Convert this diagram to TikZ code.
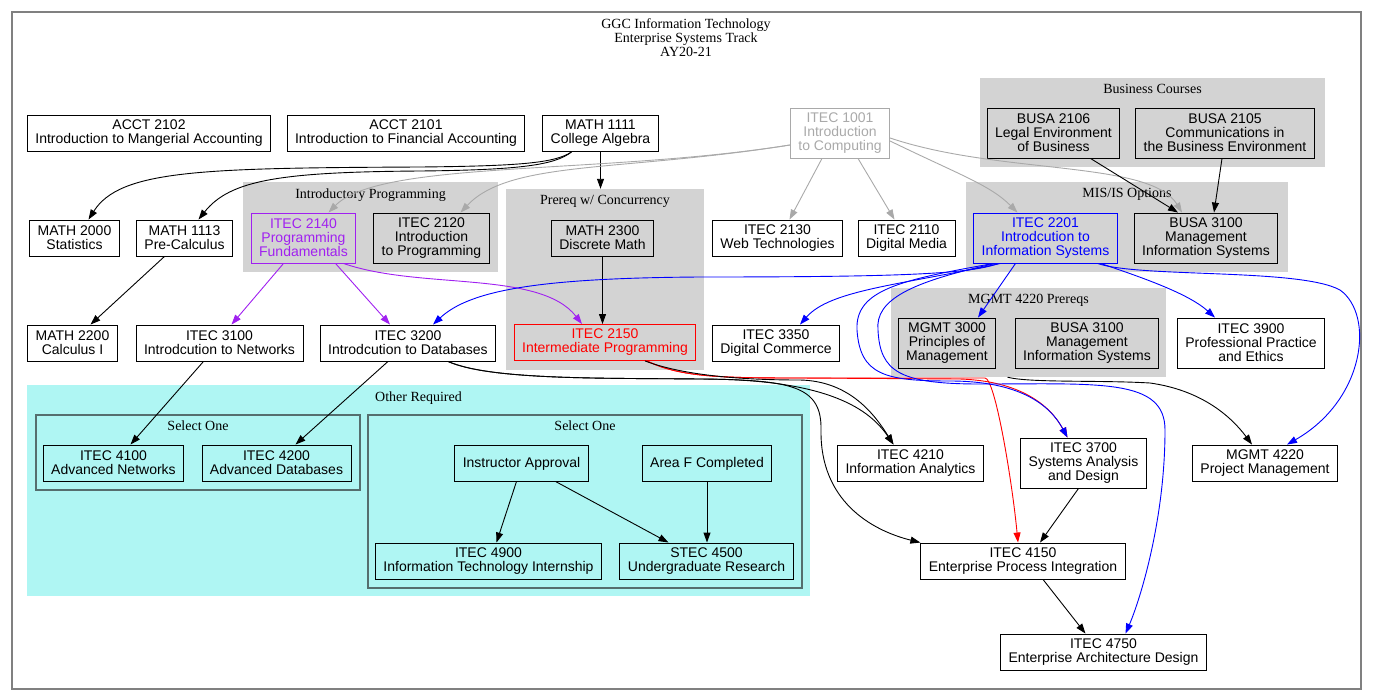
\documentclass[tikz,border=0pt]{standalone}
\usepackage{fontspec}
\setmainfont{Liberation Serif}
\setsansfont{Liberation Sans}
\usetikzlibrary{arrows.meta}

\definecolor{clgray}{RGB}{211,211,211}
\definecolor{cyanfill}{RGB}{175,246,243}
\definecolor{selborder}{RGB}{85,110,110}
\definecolor{itgray}{RGB}{169,169,169}
\definecolor{itpurple}{RGB}{160,32,240}
\definecolor{framegray}{RGB}{128,128,128}

\tikzset{
  course/.style={draw, align=center, font=\sffamily\fontsize{14}{14}\selectfont,
    inner xsep=8pt, inner ysep=0pt, minimum height=36pt, line width=0.9pt,
    execute at begin node={\rule{0pt}{12.5pt}}},
  tall/.style={minimum height=50pt},
  cluster/.style={fill=clgray, inner sep=0pt},
  clabel/.style={font=\rmfamily\fontsize{14}{14}\selectfont, anchor=north, inner sep=0pt},
  pre/.style={->, line width=0.9pt},
}

\begin{document}
\begin{tikzpicture}[x=1pt, y=-1pt, >={Triangle[length=10pt,width=7pt]}]
  \useasboundingbox (0,0) rectangle (1373,699);

  % Outer frame and title
  \draw[framegray, line width=1.4pt] (12,12) rectangle (1361,689);
  \node[font=\rmfamily\fontsize{14}{14}\selectfont, align=center, inner sep=0pt] (title) at (686,37.5)
    {GGC Information Technology\\Enterprise Systems Track\\AY20-21};

  % Clusters
  \node[cluster, minimum width=345pt, minimum height=89pt] (busc) at (1152.5,122.5) {};
  \node[cluster, minimum width=255pt, minimum height=90pt] (introp) at (370.5,227) {};
  \node[cluster, minimum width=198pt, minimum height=181pt] (prereq) at (605,279.5) {};
  \node[cluster, minimum width=322pt, minimum height=90pt] (misis) at (1127,227) {};
  \node[cluster, minimum width=275pt, minimum height=89pt] (mgmtp) at (1028.5,332.5) {};
  \node[fill=cyanfill, inner sep=0pt, minimum width=783pt, minimum height=211pt] (other) at (418.5,490.5) {};
  \node[draw=selborder, line width=1.5pt, inner sep=0pt, minimum width=324pt, minimum height=75pt] (selA) at (198,452.5) {};
  \node[draw=selborder, line width=1.5pt, inner sep=0pt, minimum width=434pt, minimum height=173pt] (selB) at (585,501.5) {};

  \node[clabel] at ([yshift=-6.5pt]busc.north) {Business Courses};
  \node[clabel] at ([yshift=-6.5pt]introp.north) {Introductory Programming};
  \node[clabel] at ([yshift=-6.5pt]prereq.north) {Prereq w/ Concurrency};
  \node[clabel] at ([yshift=-6.5pt]misis.north) {MIS/IS Options};
  \node[clabel] at ([yshift=-6.5pt]mgmtp.north) {MGMT 4220 Prereqs};
  \node[clabel] at ([yshift=-6.5pt]other.north) {Other Required};
  \node[clabel] at ([yshift=-6.5pt]selA.north) {Select One};
  \node[clabel] at ([yshift=-6.5pt]selB.north) {Select One};

  % Top row
  \node[course] (acctB) at (149,133.5) {ACCT 2102\\Introduction to Mangerial Accounting};
  \node[course] (acctA) at (406,133.5) {ACCT 2101\\Introduction to Financial Accounting};
  \node[course] (m1111) at (600.5,133.5) {MATH 1111\\College Algebra};
  \node[course, tall, itgray, draw=itgray] (i1001) at (840,133) {ITEC 1001\\Introduction\\to Computing};
  \node[course, tall] (b2106) at (1053.5,133) {BUSA 2106\\Legal Environment\\of Business};
  \node[course, tall] (b2105) at (1225,133) {BUSA 2105\\Communications in\\the Business Environment};

  % Second row
  \node[course] (m2000) at (74.5,238) {MATH 2000\\Statistics};
  \node[course] (m1113) at (184.5,238) {MATH 1113\\Pre-Calculus};
  \node[course, tall, itpurple, draw=itpurple] (i2140) at (303.5,238) {ITEC 2140\\Programming\\Fundamentals};
  \node[course, tall] (i2120) at (431.5,238) {ITEC 2120\\Introduction\\to Programming};
  \node[course] (m2300) at (602.5,238) {MATH 2300\\Discrete Math};
  \node[course] (i2130) at (777.5,238) {ITEC 2130\\Web Technologies};
  \node[course] (i2110) at (906.5,238) {ITEC 2110\\Digital Media};
  \node[course, tall, blue, draw=blue] (i2201) at (1045.5,238) {ITEC 2201\\Introdcution to\\Information Systems};
  \node[course, tall] (b3100) at (1206,238) {BUSA 3100\\Management\\Information Systems};

  % Third row
  \node[course] (m2200) at (72.5,343) {MATH 2200\\Calculus I};
  \node[course] (i3100) at (219.5,343) {ITEC 3100\\Introdcution to Networks};
  \node[course] (i3200) at (408,343) {ITEC 3200\\Introdcution to Databases};
  \node[course, red, draw=red] (i2150) at (605,342.5) {ITEC 2150\\Intermediate Programming};
  \node[course] (i3350) at (776,343) {ITEC 3350\\Digital Commerce};
  \node[course, tall] (mg3000) at (947,343) {MGMT 3000\\Principles of\\Management};
  \node[course, tall] (b3100b) at (1087,343) {BUSA 3100\\Management\\Information Systems};
  \node[course, tall] (i3900) at (1251,343) {ITEC 3900\\Professional Practice\\and Ethics};

  % Lower rows
  \node[course] (i4100) at (113.5,463) {ITEC 4100\\Advanced Networks};
  \node[course] (i4200) at (276.5,463) {ITEC 4200\\Advanced Databases};
  \node[course] (instr) at (521.5,463) {Instructor Approval};
  \node[course] (areaf) at (707,463) {Area F Completed};
  \node[course] (i4900) at (488.5,561) {ITEC 4900\\Information Technology Internship};
  \node[course] (s4500) at (706.5,561) {STEC 4500\\Undergraduate Research};
  \node[course] (i4210) at (910.5,463) {ITEC 4210\\Information Analytics};
  \node[course, tall] (i3700) at (1083.5,463) {ITEC 3700\\Systems Analysis\\and Design};
  \node[course] (mg4220) at (1265,463) {MGMT 4220\\Project Management};
  \node[course] (i4150) at (1023,561) {ITEC 4150\\Enterprise Process Integration};
  \node[course] (i4750) at (1103.5,652) {ITEC 4750\\Enterprise Architecture Design};

  % Math prerequisites
  \draw[pre] ([xshift=-29pt]m1111.south) .. controls (555,163) and (520,166) .. (420,167)
    .. controls (200,168) and (120,170) .. ([xshift=14pt]m2000.north);
  \draw[pre] ([xshift=-29pt]m1111.south) .. controls (555,165) and (520,170) .. (420,171)
    .. controls (280,172) and (230,180) .. ([xshift=14pt]m1113.north);
  \draw[pre] (m1111.south) -- (m1111.south |- prereq.north);
  \draw[pre] ([xshift=-20pt]m1113.south) -- ([xshift=18pt]m2200.north);

  % From ITEC 1001
  \draw[pre, itgray] ([yshift=-12pt]i1001.west) .. controls (600,175) and (380,160) .. ([xshift=25pt]i2140.north);
  \draw[pre, itgray] ([yshift=-12pt]i1001.west) .. controls (620,172) and (510,160) .. ([xshift=29pt]i2120.north);
  \draw[pre, itgray] ([xshift=-18pt]i1001.south) -- ([xshift=12pt]i2130.north);
  \draw[pre, itgray] ([xshift=18pt]i1001.south) -- ([xshift=-12pt]i2110.north);
  \draw[pre, itgray] ([yshift=-8pt]i1001.east) .. controls (960,175) and (990,185) .. ([xshift=-28pt]i2201.north);
  \draw[pre, itgray] ([yshift=-5pt]i1001.east) .. controls (1000,175) and (1150,160) .. ([xshift=-24pt]b3100.north);

  % Business courses
  \draw[pre] ([xshift=37pt]b2106.south) -- ([xshift=-28pt]b3100.north);
  \draw[pre] ([xshift=-3pt]b2105.south) -- ([xshift=8pt]b3100.north);

  % From ITEC 2140 and MATH 2300
  \draw[pre, itpurple] ([xshift=-20pt]i2140.south) -- ([xshift=12pt]i3100.north);
  \draw[pre, itpurple] ([xshift=32pt]i2140.south) -- ([xshift=-18pt]i3200.north);
  \draw[pre, itpurple] ([xshift=40pt]i2140.south) .. controls (420,290) and (540,270) .. ([xshift=-23pt]i2150.north);
  \draw[pre] (m2300.south) -- (m2300.south |- i2150.north);

  % From ITEC 2150 and ITEC 3200
  \draw[pre, red] ([xshift=42pt]i2150.south) .. controls (680,377) and (720,378) .. (800,378) -- (960,379)
    .. controls (1020,381) and (1050,405) .. ([xshift=-16pt]i3700.north);
  \draw[pre, red] ([xshift=42pt]i2150.south) .. controls (680,377) and (720,378) .. (800,378) -- (985,378)
    .. controls (995,378) and (1012,480) .. ([xshift=-5pt]i4150.north);
  \draw[pre] ([xshift=40pt]i2150.south) .. controls (690,378) and (760,380) .. (800,380)
    .. controls (850,381) and (875,415) .. ([xshift=-17pt]i4210.north);
  \draw[pre] ([xshift=40pt]i3200.south) .. controls (490,380) and (600,378) .. (700,379)
    .. controls (830,379) and (870,410) .. ([xshift=-17pt]i4210.north);
  \draw[pre] ([xshift=40pt]i3200.south) .. controls (490,380) and (600,378) .. (700,379)
    .. controls (790,380) and (822,385) .. (821,430) .. controls (820,500) and (870,530) .. (i4150.north west);
  \draw[pre] ([xshift=-16pt]i3100.south) -- ([xshift=17pt]i4100.north);
  \draw[pre] ([xshift=-20pt]i3200.south) -- ([xshift=19pt]i4200.north);

  % From ITEC 2201
  \draw[pre, blue] ([xshift=-47pt]i2201.south) .. controls (970,274) and (900,277) .. (700,277)
    .. controls (540,278) and (470,290) .. ([xshift=25pt]i3200.north);
  \draw[pre, blue] ([xshift=-45pt]i2201.south) .. controls (900,285) and (830,290) .. ([xshift=24pt]i3350.north);
  \draw[pre, blue] ([xshift=-30pt]i2201.south) -- ([xshift=31pt]mg3000.north);
  \draw[pre, blue] ([xshift=55pt]i2201.south) .. controls (1150,280) and (1190,295) .. ([xshift=-36pt]i3900.north);
  \draw[pre, blue] ([xshift=52pt]i2201.south) .. controls (1140,278) and (1300,268) .. (1340,290)
    .. controls (1375,315) and (1365,400) .. ([xshift=22pt]mg4220.north);
  \draw[pre, blue] ([xshift=-52pt]i2201.south) .. controls (900,280) and (855,290) .. (857,330)
    .. controls (860,375) and (885,381) .. (950,381) .. controls (1020,381) and (1050,405) .. ([xshift=-16pt]i3700.north);
  \draw[pre, blue] ([xshift=-50pt]i2201.south) .. controls (910,282) and (875,300) .. (878,330)
    .. controls (880,372) and (900,384) .. (980,384) .. controls (1100,384) and (1165,378) .. (1165,430)
    .. controls (1165,520) and (1140,600) .. ([xshift=22pt]i4750.north);

  % Management prerequisites
  \draw[pre] ([xshift=-21pt]mgmtp.south) .. controls (1030,383) and (1100,380) .. (1150,383)
    .. controls (1200,390) and (1230,415) .. ([xshift=-13pt]mg4220.north);

  % Other required and capstone
  \draw[pre] ([xshift=-5pt]instr.south) -- ([xshift=8pt]i4900.north);
  \draw[pre] ([xshift=34pt]instr.south) -- ([xshift=-38pt]s4500.north);
  \draw[pre] (areaf.south) -- (areaf.south |- s4500.north);
  \draw[pre] ([xshift=-5pt]i3700.south) -- ([xshift=17pt]i4150.north);
  \draw[pre] ([xshift=20pt]i4150.south) -- ([xshift=-18pt]i4750.north);
\end{tikzpicture}
\end{document}
